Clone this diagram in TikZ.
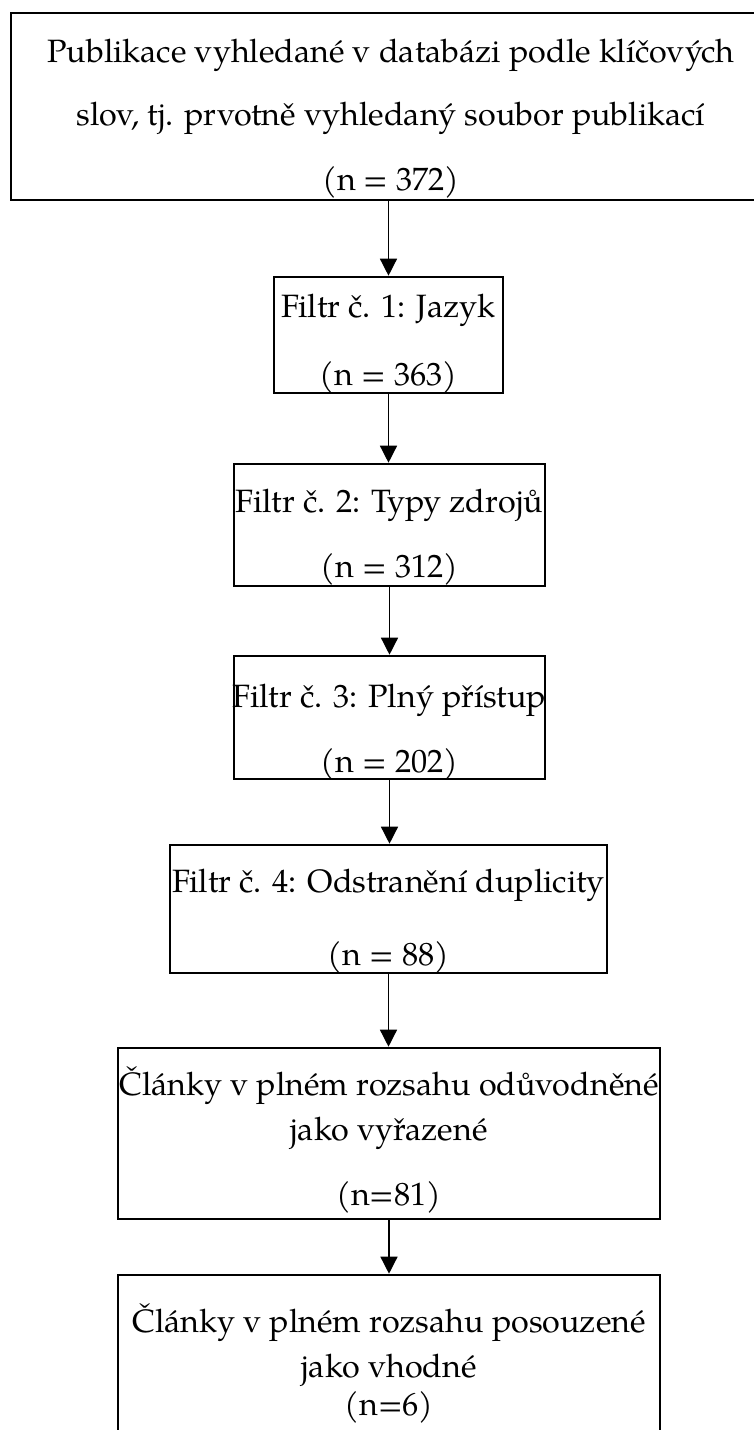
\documentclass[tikz,border=0pt]{standalone}
\usepackage{fontspec}
\setmainfont{TeX Gyre Pagella}
\usetikzlibrary{arrows.meta}
\begin{document}
\begin{tikzpicture}[x=1pt,y=-1pt,
  box/.style={draw, line width=2.6pt, inner sep=0pt},
  lbl/.style={anchor=base, inner sep=0pt, font=\fontsize{32.3}{32.3}\selectfont},
  conn/.style={line width=1.4pt, -{Triangle[length=17pt,width=17pt]}}]
\useasboundingbox (0,0) rectangle (754,1430);
% boxes
\node[box, minimum width=759pt, minimum height=187pt] (b1) at (390.5,106.5) {};
\node[box, minimum width=229pt, minimum height=116pt] (b2) at (388.5,335) {};
\node[box, minimum width=311pt, minimum height=122pt] (b3) at (389.5,525) {};
\node[box, minimum width=311pt, minimum height=123pt] (b4) at (389.5,717.5) {};
\node[box, minimum width=437pt, minimum height=128pt] (b5) at (388.5,909) {};
\node[box, minimum width=542pt, minimum height=171pt] (b6) at (389,1133.5) {};
\node[box, minimum width=542pt, minimum height=175pt] (b7) at (389,1362.5) {};
% texts
\node[lbl] (t1a) at (391,62) {Publikace vyhledané v databázi podle klíčových};
\node[lbl] (t1b) at (391,125) {slov, tj. prvotně vyhledaný soubor publikací};
\node[lbl] (t1c) at (391,190) {(n = 372)};
\node[lbl] (t2a) at (388.5,317) {Filtr č. 1: Jazyk};
\node[lbl] (t2b) at (388.5,385) {(n = 363)};
\node[lbl] (t3a) at (389.5,512) {Filtr č. 2: Typy zdrojů};
\node[lbl] (t3b) at (389.5,577) {(n = 312)};
\node[lbl] (t4a) at (389.5,707) {Filtr č. 3: Plný přístup};
\node[lbl] (t4b) at (389.5,772) {(n = 202)};
\node[lbl] (t5a) at (388.5,892) {Filtr č. 4: Odstranění duplicity};
\node[lbl] (t5b) at (388.5,965) {(n = 88)};
\node[lbl] (t6a) at (389,1095) {Články v plném rozsahu odůvodněné};
\node[lbl] (t6b) at (389,1140) {jako vyřazené};
\node[lbl] (t6c) at (389,1205) {(n=81)};
\node[lbl] (t7a) at (389,1332) {Články v plném rozsahu posouzené};
\node[lbl] (t7b) at (389,1377) {jako vhodné};
\node[lbl] (t7c) at (389,1415) {(n=6)};
% connectors
\draw[conn] (b1.south -| b2.north) -- (b2.north);
\draw[conn] (b2.south) -- (b3.north -| b2.south);
\draw[conn] (b3.south) -- (b4.north);
\draw[conn] (b4.south) -- (b5.north -| b4.south);
\draw[conn] (b5.south) -- (b6.north -| b5.south);
\draw[conn] (b6.south) -- (b7.north);
\end{tikzpicture}
\end{document}
